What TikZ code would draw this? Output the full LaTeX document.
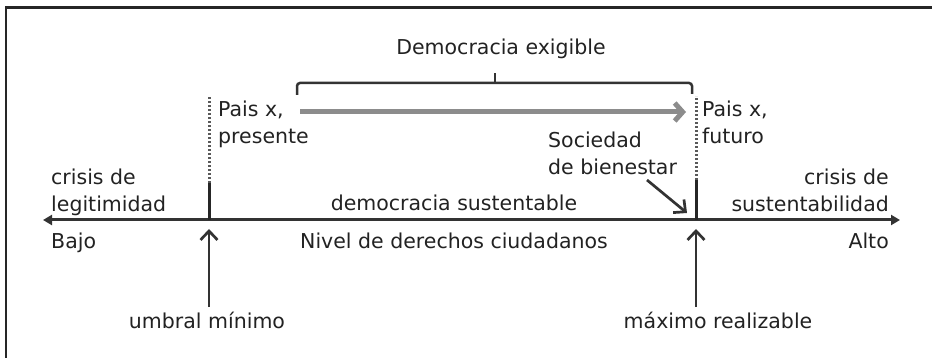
\documentclass[tikz,border=0pt]{standalone}
\usepackage{fontspec}
\setmainfont{DejaVu Sans}
\usetikzlibrary{arrows.meta}
\definecolor{ink}{HTML}{222222}
\definecolor{lineink}{HTML}{333333}
\definecolor{grayarrow}{HTML}{8C8C8C}
\newcommand\twoleft[2]{\begin{tabular}[t]{@{}l@{}}#1\\#2\end{tabular}}
\newcommand\tworight[2]{\begin{tabular}[t]{@{}r@{}}#1\\#2\end{tabular}}
\begin{document}
\begin{tikzpicture}[x=1pt,y=-1pt,
  txt/.style={inner sep=0pt,text=ink,font=\fontsize{20.5}{26.5}\selectfont},
  axisline/.style={line width=3pt,draw=lineink,{Triangle[length=9pt,width=10pt]}-{Triangle[length=9pt,width=10pt]}},
  tickline/.style={line width=3pt,draw=black!85},
  dotline/.style={line width=3pt,draw=black!65,dash pattern=on 2pt off 2pt},
  uparrow/.style={line width=2.7pt,draw=lineink,-{Straight Barb[length=9pt,width=17pt]}},
  progress/.style={line width=5pt,draw=grayarrow,-{Straight Barb[length=8pt,width=18pt]}},
  bracketline/.style={line width=2.5pt,draw=lineink,rounded corners=3pt},
  frameline/.style={line width=2.5pt,draw=black!85}]
\useasboundingbox (0,0) rectangle (932,358);
% frame (top and left edges)
\coordinate (fa) at (6,358);
\coordinate (fb) at (6,7.5);
\coordinate (fc) at (932,7.5);
\draw[frameline] (fa) -- (fb) -- (fc);
% axis
\coordinate (L) at (43,220);
\coordinate (R) at (900,220);
\coordinate (t1) at (209,220);
\coordinate (t2) at (696,220);
\draw[axisline] (L) -- (R);
% ticks and dotted lines
\coordinate (t1top) at (209,183);
\coordinate (t2top) at (696,180);
\coordinate (d1top) at (209,97);
\coordinate (d2top) at (696,96);
\draw[tickline] (t1) -- (t1top);
\draw[tickline] (t2) -- (t2top);
\draw[dotline] (t1top) -- (d1top);
\draw[dotline] (t2top) -- (d2top);
% bracket
\coordinate (b1) at (297,95);
\coordinate (b2) at (297,83);
\coordinate (b3) at (692,83);
\coordinate (b4) at (692,94);
\coordinate (bm) at (495,83);
\coordinate (bt) at (495,73);
\draw[bracketline] (b1) -- (b2) -- (b3) -- (b4);
\draw[line width=2.5pt,draw=lineink] (bm) -- (bt);
% texts
\node[txt,anchor=base] (dex) at (501,55) {Democracia exigible};
\node[txt,anchor=base west] (p1) at (218,117) {\twoleft{Pais x,}{presente}};
\node[txt,anchor=base west] (p2) at (702,117) {\twoleft{Pais x,}{futuro}};
\node[txt,anchor=base west] (soc) at (548,148) {\twoleft{Sociedad}{de bienestar}};
\node[txt,anchor=base west] (cl) at (51,185) {\twoleft{crisis de}{legitimidad}};
\node[txt,anchor=base east] (cs) at (889,185) {\tworight{crisis de}{sustentabilidad}};
\node[txt,anchor=base] (ds) at (454,211) {democracia sustentable};
\node[txt,anchor=base] (niv) at (454,248) {Nivel de derechos ciudadanos};
\node[txt,anchor=base west] (bajo) at (51,248) {Bajo};
\node[txt,anchor=base east] (alto) at (889,248) {Alto};
\node[txt,anchor=base] (umb) at (207,328) {umbral mínimo};
\node[txt,anchor=base] (max) at (718,328) {máximo realizable};
% progress arrow
\coordinate (g1) at (300,112);
\coordinate (g2) at (686,112);
\draw[progress] (g1) -- (g2);
% up arrows
\coordinate (u1) at (209,307);
\coordinate (u1tip) at (209,229);
\coordinate (u2) at (696,307);
\coordinate (u2tip) at (696,229);
\draw[uparrow] (u1) -- (u1tip);
\draw[uparrow] (u2) -- (u2tip);
% bienestar arrow
\coordinate (s1) at (647,180);
\coordinate (s2) at (687,213);
\draw[uparrow] (s1) -- (s2);
\end{tikzpicture}
\end{document}
